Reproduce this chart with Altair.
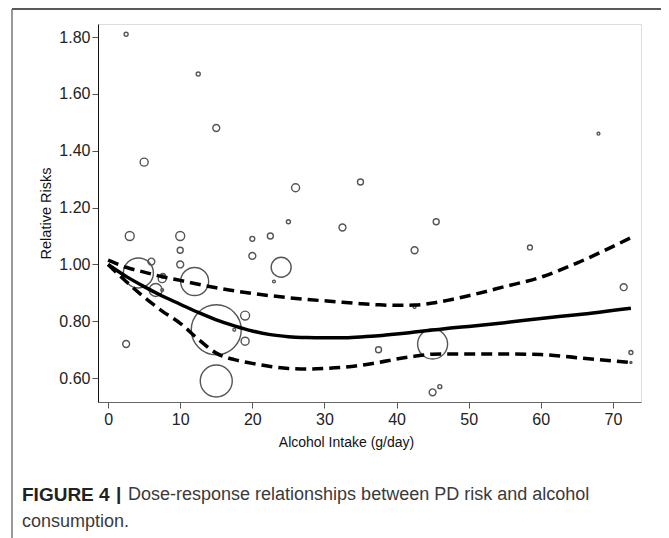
import altair as alt
import pandas as pd

# Study-level estimates (bubbles): intake, relative risk, weight
study_x = [2.5, 12.5, 15, 5, 3, 10, 10, 10, 26, 35, 25, 32.5, 20, 22.5, 20, 24, 23,
           4.2, 6, 7.5, 7.6, 6.6, 7.5, 12, 15, 15, 19, 19, 17.5, 2.5,
           45.5, 42.5, 42.5, 45, 37.5, 45, 46, 68, 58.5, 71.5, 72.5, 72.5]
study_rr = [1.81, 1.67, 1.48, 1.36, 1.10, 1.10, 1.05, 1.00, 1.27, 1.29, 1.15, 1.13, 1.09, 1.10, 1.03, 0.99, 0.94,
            0.97, 1.01, 0.95, 0.96, 0.91, 0.91, 0.94, 0.77, 0.59, 0.82, 0.73, 0.77, 0.72,
            1.15, 1.05, 0.85, 0.72, 0.70, 0.55, 0.57, 1.46, 1.06, 0.92, 0.69, 0.655]
study_w = [4, 4, 12, 16, 20, 20, 9, 12, 16, 9, 4, 12, 6, 9, 12, 100, 2,
           225, 12, 16, 6, 42, 2, 196, 625, 256, 20, 16, 2, 12,
           9, 12, 2, 225, 9, 12, 4, 2, 6, 12, 4, 1]

# Fitted dose-response curve and 95% CI
curve_x = [0, 2.5, 5, 7.5, 10, 12.5, 15, 17.5, 20, 22.5, 25, 27.5, 30, 32.5, 35, 37.5,
           40, 42.5, 45, 47.5, 50, 55, 60, 65, 72.5]
curve_fit = [1.0, 0.958, 0.922, 0.889, 0.860, 0.831, 0.805, 0.784, 0.766, 0.753, 0.746, 0.743,
             0.742, 0.742, 0.745, 0.749, 0.755, 0.762, 0.769, 0.776, 0.782, 0.795, 0.810, 0.823, 0.846]
curve_up = [1.015, 0.99, 0.973, 0.957, 0.944, 0.930, 0.918, 0.907, 0.898, 0.890, 0.883, 0.877,
            0.872, 0.867, 0.862, 0.858, 0.856, 0.857, 0.864, 0.876, 0.890, 0.922, 0.955, 1.005, 1.094]
curve_lo = [1.0, 0.94, 0.885, 0.836, 0.793, 0.737, 0.688, 0.665, 0.652, 0.641, 0.634, 0.632,
            0.634, 0.638, 0.645, 0.655, 0.667, 0.677, 0.684, 0.685, 0.685, 0.685, 0.683, 0.672, 0.655]

x_ticks = [0, 10, 20, 30, 40, 50, 60, 70]
y_ticks = [0.6, 0.8, 1.0, 1.2, 1.4, 1.6, 1.8]

caption_bold = "FIGURE 4"
caption_bar = "|"
caption_1 = "Dose-response relationships between PD risk and alcohol"
caption_2 = "consumption."

studies = pd.DataFrame({"x": study_x, "rr": study_rr, "w": study_w})
curves = pd.DataFrame({"x": curve_x, "fit": curve_fit, "up": curve_up, "lo": curve_lo})

FONT = "Liberation Sans"
xs = alt.Scale(domain=[-1.4, 73.9], nice=False, zero=False)
ys = alt.Scale(domain=[0.516, 1.846], nice=False, zero=False)

xaxis = alt.Axis(values=x_ticks, title="Alcohol Intake (g/day)", grid=False,
                 domainColor="#666", tickColor="#555", tickSize=6, labelFontSize=16,
                 labelColor="#222", titleFontSize=14, titleFontWeight="normal",
                 titleColor="#111", titleFont=FONT, labelFont=FONT, titlePadding=8,
                 titleX=248, labelPadding=3)
yaxis = alt.Axis(values=y_ticks, format=".2f", title="Relative Risks", grid=False,
                 domainColor="#111", tickColor="#555", tickSize=6, labelFontSize=16,
                 labelColor="#222", titleFontSize=14.5, titleFontWeight="normal",
                 titleColor="#111", titleFont=FONT, labelFont=FONT, titlePadding=5,
                 labelPadding=2)

bubbles = alt.Chart(studies).mark_point(shape="circle", filled=False, color="#555",
                                        strokeWidth=1.4, opacity=1).encode(
    x=alt.X("x:Q", scale=xs, axis=xaxis),
    y=alt.Y("rr:Q", scale=ys, axis=yaxis),
    size=alt.Size("w:Q", scale=alt.Scale(type="linear", domain=[0, 625], range=[0, 2500]),
                  legend=None),
)

base = alt.Chart(curves).encode(x=alt.X("x:Q", scale=xs))
fit = base.mark_line(color="black", strokeWidth=3.5, interpolate="monotone").encode(
    y=alt.Y("fit:Q", scale=ys))
up = base.mark_line(color="black", strokeWidth=3.5, strokeDash=[11, 6],
                    interpolate="monotone").encode(y=alt.Y("up:Q", scale=ys))
lo = base.mark_line(color="black", strokeWidth=3.5, strokeDash=[11, 6],
                    interpolate="monotone").encode(y=alt.Y("lo:Q", scale=ys))

frame_top = alt.Chart().mark_rule(color="#222", strokeWidth=1.5).encode(
    x=alt.value(-86), x2=alt.value(569), y=alt.value(-15))
frame_left = alt.Chart().mark_rule(color="#777", strokeWidth=1.5).encode(
    x=alt.value(-86), y=alt.value(-15), y2=alt.value(560))
frame_right = alt.Chart().mark_rule(color="#777", strokeWidth=1.5).encode(
    x=alt.value(569), y=alt.value(-15), y2=alt.value(560))

cap_b = alt.Chart().mark_text(text=caption_bold, font=FONT, fontSize=19, fontWeight="bold",
                              color="#222", align="left", baseline="middle").encode(
    x=alt.value(-76), y=alt.value(471))
cap_bar = alt.Chart().mark_text(text=caption_bar, font=FONT, fontSize=19, fontWeight="bold",
                                color="#222", align="left", baseline="middle").encode(
    x=alt.value(18), y=alt.value(470))
cap_1 = alt.Chart().mark_text(text=caption_1, font=FONT, fontSize=18, color="#3a3a3a",
                              align="left", baseline="middle").encode(
    x=alt.value(30), y=alt.value(471))
cap_2 = alt.Chart().mark_text(text=caption_2, font=FONT, fontSize=18, color="#3a3a3a",
                              align="left", baseline="middle").encode(
    x=alt.value(-76), y=alt.value(498))

chart = alt.layer(bubbles, fit, up, lo, frame_top, frame_left, frame_right,
                  cap_b, cap_bar, cap_1, cap_2).properties(
    width=543, height=378,
    autosize=alt.AutoSizeParams(type="none"),
    padding={"left": 90, "top": 16, "right": 20, "bottom": 136},
).configure_view(stroke=None).configure(background="white")

chart.save("out.html", embed_options={"renderer": "svg", "actions": False})
